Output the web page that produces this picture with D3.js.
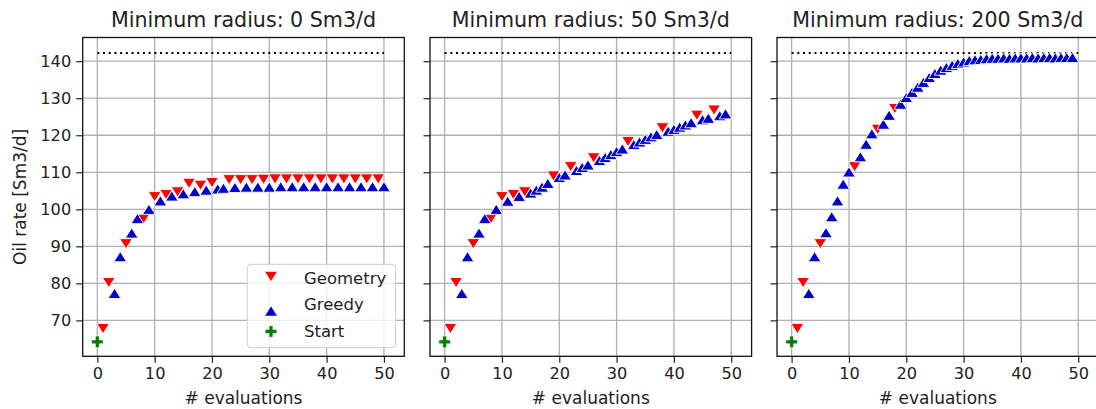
<!DOCTYPE html>
<html>
<head>
<meta charset="utf-8">
<script src="https://d3js.org/d3.v7.min.js"></script>
<style>
body {margin: 0; background: white;}
text {font-family: "DejaVu Sans", sans-serif; fill: #222;}
.grid line {stroke: #b0b0b0; stroke-width: 1.3;}
.tick line {stroke: #222;}
</style>
</head>
<body>
<svg width=1096 height=409></svg>
<script>
// values
var titles = ["Minimum radius: 0 Sm3/d", "Minimum radius: 50 Sm3/d", "Minimum radius: 200 Sm3/d"];
var xTicks = [0, 10, 20, 30, 40, 50];
var yTicks = [70, 80, 90, 100, 110, 120, 130, 140];
var xDomain = [-2.55, 53.55];
var yDomain = [60.3, 146.4];
var startPoint = [0, 64.2];
var optimum = 142.2;
var optimumSpan = [0, 50];

var geomX1 = [1,2,5,8,10,12,14,16,18,20,23,25,27,29,31,33,35,37,39,41,43,45,47,49];
var geomY1 = [67.8,80.2,90.7,97.3,103.4,104.0,104.7,107.0,106.5,107.2,108.0,108.0,108.0,108.1,108.2,108.2,108.2,108.2,108.2,108.2,108.2,108.2,108.2,108.2];
var greedyX1 = [3,4,6,7,9,11,13,15,17,19,21,22,24,26,28,30,32,34,36,38,40,42,44,46,48,50];
var greedyY1 = [77.3,87.2,93.6,97.5,100.0,102.3,103.6,104.2,104.8,105.2,105.5,105.7,105.9,106.0,106.0,106.0,106.1,106.1,106.1,106.1,106.1,106.1,106.1,106.1,106.1,106.1];

var geomX2 = [1,2,5,8,10,12,14,19,22,26,32,38,44,47];
var geomY2 = [67.8,80.2,90.7,97.3,103.4,104.0,104.7,109.0,111.5,113.9,118.3,122.0,125.4,126.8];
var greedyX2 = [3,4,6,7,9,11,13,15,16,17,18,20,21,23,24,25,27,28,29,30,31,33,34,35,36,37,39,40,41,42,43,45,46,48,49];
var greedyY2 = [77.3,87.2,93.6,97.5,100.0,102.2,103.5,104.4,105.2,106.0,107.0,108.6,109.3,110.5,111.3,112.0,113.2,114.0,114.8,115.6,116.3,117.5,118.2,118.9,119.6,120.2,121.1,121.6,122.2,122.8,123.4,124.2,124.6,125.3,125.8];

var geomX3 = [1,2,5,11,15,18];
var geomY3 = [67.8,80.2,90.7,111.5,121.6,127.2];
var greedyX3 = [3,4,6,7,8,9,10,12,13,14,16,17,19,20,21,22,23,24,25,26,27,28,29,30,31,32,33,34,35,36,37,38,39,40,41,42,43,44,45,46,47,48,49];
var greedyY3 = [77.3,87.2,93.7,98.0,102.3,106.8,110.1,114.2,117.6,120.4,123.0,125.4,128.4,130.2,131.6,133.0,134.3,135.6,136.7,137.6,138.3,138.9,139.4,139.8,140.2,140.4,140.5,140.7,140.8,140.8,140.9,140.8,140.9,140.9,140.9,141.0,140.9,141.0,141.0,140.9,141.0,141.0,141.0];

var panels = [
  {geomX: geomX1, geomY: geomY1, greedyX: greedyX1, greedyY: greedyY1},
  {geomX: geomX2, geomY: geomY2, greedyX: greedyX2, greedyY: greedyY2},
  {geomX: geomX3, geomY: geomY3, greedyX: greedyX3, greedyY: greedyY3}
];

var svg = d3.select("svg");
var lefts = [82.7, 430, 777];
var pw = 321.6, plotTop = 37.5, plotBottom = 356.3;

var red = "#ff0000", blue = "#0000c8", green = "#007f00";

// triangles: half-width w, half-height h
function triUp(w, h) { return "M0," + (-h) + "L" + w + "," + h + "L" + (-w) + "," + h + "Z"; }
function triDown(w, h) { return "M0," + h + "L" + w + "," + (-h) + "L" + (-w) + "," + (-h) + "Z"; }
function plus(r) {
  var a = r/3;
  return "M" + (-a) + "," + (-r) + "H" + a + "V" + (-a) + "H" + r + "V" + a + "H" + a + "V" + r +
         "H" + (-a) + "V" + a + "H" + (-r) + "V" + (-a) + "H" + (-a) + "Z";
}
var mw = 6.4, mh = 5.1;

var y = d3.scaleLinear().domain(yDomain).range([plotBottom, plotTop]);

panels.forEach(function(p, i) {
  var x = d3.scaleLinear().domain(xDomain).range([lefts[i], lefts[i] + pw]);
  var g = svg.append("g");

  g.append("defs").append("clipPath").attr("id", "clip" + i)
    .append("rect").attr("x", lefts[i]).attr("y", plotTop).attr("width", pw).attr("height", plotBottom - plotTop);

  // grid
  var grid = g.append("g").attr("class", "grid");
  grid.selectAll(".gx").data(xTicks).enter().append("line")
    .attr("x1", function(d) { return x(d); }).attr("x2", function(d) { return x(d); })
    .attr("y1", plotTop).attr("y2", plotBottom);
  grid.selectAll(".gy").data(yTicks).enter().append("line")
    .attr("x1", lefts[i]).attr("x2", lefts[i] + pw)
    .attr("y1", function(d) { return y(d); }).attr("y2", function(d) { return y(d); });

  var plot = g.append("g").attr("clip-path", "url(#clip" + i + ")");

  plot.append("line")
    .attr("x1", x(optimumSpan[0])).attr("x2", x(optimumSpan[1]))
    .attr("y1", y(optimum)).attr("y2", y(optimum))
    .attr("stroke", "black").attr("stroke-width", 2).attr("stroke-dasharray", "2,3.7");

  plot.selectAll(".geom").data(d3.zip(p.geomX, p.geomY)).enter().append("path")
    .attr("d", triDown(mw, mh))
    .attr("transform", function(d) { return "translate(" + x(d[0]) + "," + y(d[1]) + ")"; })
    .attr("fill", red).attr("stroke", "white").attr("stroke-width", 0.9);

  plot.selectAll(".greedy").data(d3.zip(p.greedyX, p.greedyY)).enter().append("path")
    .attr("d", triUp(mw, mh))
    .attr("transform", function(d) { return "translate(" + x(d[0]) + "," + y(d[1]) + ")"; })
    .attr("fill", blue).attr("stroke", "white").attr("stroke-width", 0.9);

  plot.append("path")
    .attr("d", plus(5.8))
    .attr("transform", "translate(" + x(startPoint[0]) + "," + y(startPoint[1]) + ")")
    .attr("fill", green).attr("stroke", "white").attr("stroke-width", 0.6);

  // axes
  var xAxis = d3.axisBottom(x).tickValues(xTicks).tickSize(6.5).tickPadding(5);
  var gx = g.append("g").attr("transform", "translate(0," + plotBottom + ")").call(xAxis);
  gx.select(".domain").remove();
  gx.selectAll("text").style("font-size", "16.2px").style("font-family", "DejaVu Sans").attr("fill", "#222");
  gx.selectAll(".tick line").attr("stroke-width", 1.2);

  var yAxis = d3.axisLeft(y).tickValues(yTicks).tickSize(6.5).tickPadding(5);
  if (i > 0) yAxis.tickFormat("");
  var gy = g.append("g").attr("transform", "translate(" + lefts[i] + ",0)").call(yAxis);
  gy.select(".domain").remove();
  gy.selectAll("text").style("font-size", "16.2px").style("font-family", "DejaVu Sans").attr("fill", "#222");
  gy.selectAll(".tick line").attr("stroke-width", 1.2);

  g.append("rect").attr("x", lefts[i]).attr("y", plotTop).attr("width", pw).attr("height", plotBottom - plotTop)
    .attr("fill", "none").attr("stroke", "#111").attr("stroke-width", 1.3);

  g.append("text").attr("x", lefts[i] + pw / 2).attr("y", 27)
    .attr("text-anchor", "middle").style("font-size", "20.6px").text(titles[i]);

  g.append("text").attr("x", lefts[i] + pw / 2).attr("y", 404)
    .attr("text-anchor", "middle").style("font-size", "17px").text("# evaluations");

  if (i === 0) {
    g.append("text").attr("transform", "translate(26," + ((plotTop + plotBottom) / 2) + ") rotate(-90)")
      .attr("text-anchor", "middle").style("font-size", "17px").text("Oil rate [Sm3/d]");

    var lg = g.append("g");
    lg.append("rect").attr("x", 247.3).attr("y", 264.3).attr("width", 148.4).attr("height", 83.4)
      .attr("rx", 4).attr("fill", "white").attr("fill-opacity", 0.8)
      .attr("stroke", "#d6d6d6").attr("stroke-width", 1.2);
    var rows = [
      {label: "Geometry", d: triDown(mw, mh), fill: red, dy: -1},
      {label: "Greedy", d: triUp(mw, mh), fill: blue, dy: 7},
      {label: "Start", d: plus(5.8), fill: green, dy: 1}
    ];
    rows.forEach(function(r, k) {
      var cy = 277.5 + k * 26.5;
      lg.append("path").attr("d", r.d).attr("transform", "translate(271," + (cy + r.dy) + ")")
        .attr("fill", r.fill).attr("stroke", "white").attr("stroke-width", 0.6);
      lg.append("text").attr("x", 304).attr("y", cy + 6).style("font-size", "16.5px").text(r.label);
    });
  }
});
</script>
</body>
</html>
